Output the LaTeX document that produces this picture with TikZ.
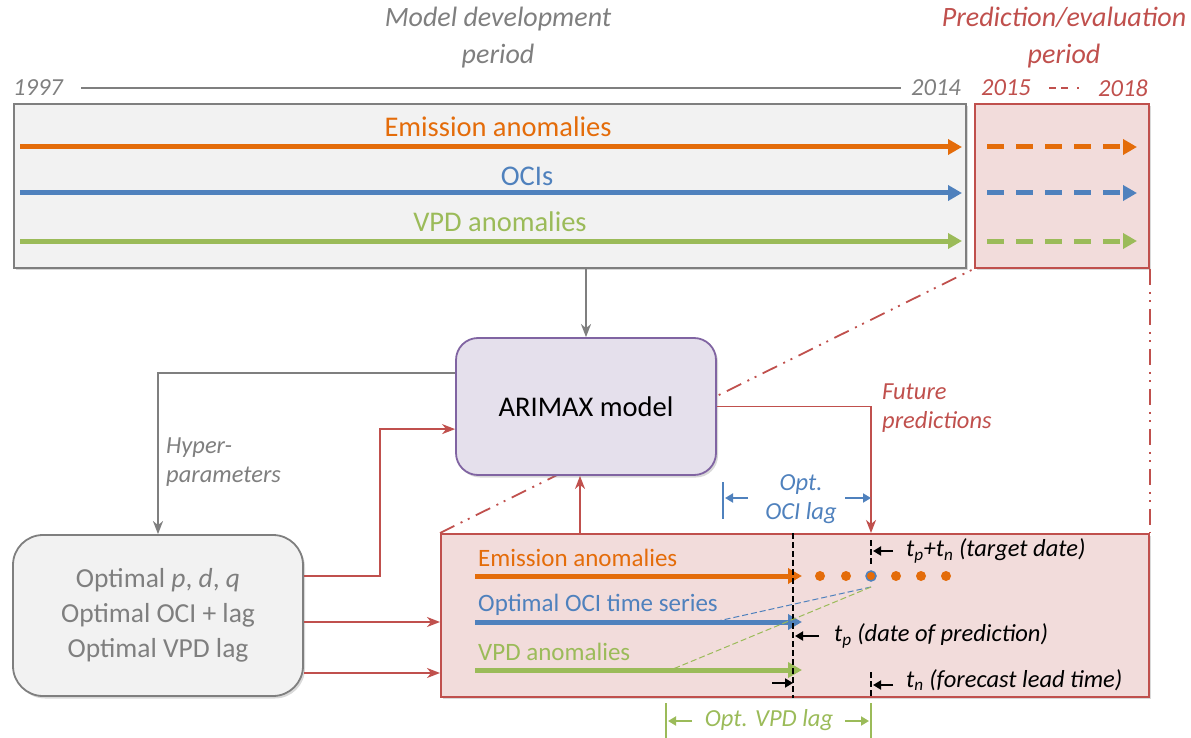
\documentclass[tikz,border=0pt]{standalone}
\usepackage{fontspec}
\setmainfont{Carlito}
\usetikzlibrary{arrows.meta,positioning,shadows}
\definecolor{emisorange}{HTML}{E46C0A}
\definecolor{ociblue}{HTML}{4F81BD}
\definecolor{vpdgreen}{HTML}{9BBB59}
\definecolor{predred}{HTML}{C0504D}
\definecolor{predfill}{HTML}{F2DCDB}
\definecolor{devgray}{HTML}{7F7F7F}
\definecolor{devfill}{HTML}{F2F2F2}
\definecolor{modelpurple}{HTML}{8064A2}
\definecolor{modelfill}{HTML}{E5E0EC}
\newcommand{\fsbig}{\fontsize{28.5}{35}\selectfont}
\newcommand{\fshyper}{\fontsize{27.5}{35}\selectfont}
\newcommand{\fstitle}{\fontsize{28}{37}\selectfont}
\newcommand{\fsmid}{\fontsize{25}{29}\selectfont}
\newcommand{\fslab}{\fontsize{24.5}{29}\selectfont}
\tikzset{
  boxshadow/.style={drop shadow={shadow xshift=2pt,shadow yshift=-2.5pt,opacity=0.3}},
  devbox/.style={draw=devgray,fill=devfill,line width=1.8pt,boxshadow,inner sep=0pt},
  predbox/.style={draw=predred,fill=predfill,line width=1.8pt,boxshadow,inner sep=0pt},
  modelbox/.style={draw=modelpurple,fill=modelfill,line width=1.8pt,rounded corners=22pt,boxshadow,inner sep=0pt},
  hyperbox/.style={draw=devgray,fill=devfill,line width=1.8pt,rounded corners=30pt,boxshadow,inner sep=0pt,align=center,text=devgray,font=\fshyper},
  seriesarrow/.style={line width=5pt,-{Triangle[length=14pt,width=15pt]}},
  futureseries/.style={seriesarrow,dash pattern=on 17pt off 12pt},
  grayarrow/.style={draw=devgray,line width=1.8pt,-{Stealth[length=13pt,width=10pt,inset=4pt]}},
  redarrow/.style={draw=predred,line width=1.8pt,-{Stealth[length=13pt,width=10pt,inset=4pt]}},
  lagarrow/.style={line width=1.8pt,-{Triangle[length=8pt,width=9pt]}},
  zoomline/.style={draw=predred,line width=1.8pt,dash pattern=on 16pt off 7pt on 2pt off 6pt on 2pt off 7pt},
  timeline/.style={black,line width=1.8pt,dash pattern=on 6pt off 3pt},
  lagline/.style={line width=1pt,dash pattern=on 6pt off 3pt},
  ptitle/.style={font=\fstitle\itshape,align=center},
  yearlabel/.style={font=\fslab\itshape},
  serieslabel/.style={font=\fsbig},
  innerlabel/.style={font=\fsmid,anchor=west,inner sep=2pt},
  tlabel/.style={font=\fslab\itshape,anchor=west,inner sep=2pt},
}
\begin{document}
\begin{tikzpicture}[x=1pt,y=-1pt]
  \useasboundingbox (0,0) rectangle (1191,738);
  \node[ptitle,text=devgray] (devtitle) at (498,38) {Model development\\period};
  \node[ptitle,text=predred] (predtitle) at (1064,38) {Prediction/evaluation\\period};
  \node[yearlabel,text=devgray] (y1997) at (38,88) {1997};
  \node[yearlabel,text=devgray] (y2014) at (936,88) {2014};
  \node[yearlabel,text=predred] (y2015) at (1006,88) {2015};
  \node[yearlabel,text=predred] (y2018) at (1123,88) {2018};
  \draw[devgray,line width=1.5pt,shorten <=15pt,shorten >=7pt] (y1997) -- (y2014);
  \draw[predred,line width=1.2pt,shorten <=15pt,shorten >=8pt,
    dash pattern=on 7pt off 5pt on 7pt off 9pt on 2pt off 9pt] (y2015) -- (y2018);

  \node[devbox,anchor=north west,minimum width=952pt,minimum height=164pt] (devper) at (13,103) {};
  \node[predbox,anchor=north west,minimum width=174pt,minimum height=164pt] (predper) at (974,103) {};
  \node[predbox,anchor=north west,minimum width=708pt,minimum height=163pt] (forecast) at (440,533) {};
  \node[hyperbox,minimum width=290pt,minimum height=161pt] (hyper) at (158,615.5)
    {Optimal \textit{p}, \textit{d}, \textit{q}\\Optimal OCI + lag\\Optimal VPD lag};
  \draw[zoomline] (forecast.north west) -- (predper.south west);
  \draw[zoomline] (predper.south east) -- (forecast.north east);
  \node[modelbox,minimum width=260pt,minimum height=137pt,font=\fsbig] (model) at (586,406.5) {ARIMAX model};

  \node[serieslabel,text=emisorange] (emislabel) at (498,127) {Emission anomalies};
  \node[serieslabel,text=ociblue] (ocilabel) at (527,176) {OCIs};
  \node[serieslabel,text=vpdgreen] (vpdlabel) at (500,222) {VPD anomalies};
  \draw[seriesarrow,emisorange] (20,147) -- (962,147);
  \draw[seriesarrow,ociblue] (20,193) -- (962,193);
  \draw[seriesarrow,vpdgreen] (20,241) -- (962,241);
  \draw[futureseries,emisorange] (987,147) -- (1137,147);
  \draw[futureseries,ociblue] (987,193) -- (1137,193);
  \draw[futureseries,vpdgreen] (987,241) -- (1137,241);

  \draw[grayarrow] (devper.south -| model.north) -- (model.north);
  \draw[grayarrow] ([yshift=-36pt]model.north west) -| (hyper.north);
  \node[tlabel,text=devgray,align=left] (hyperlabel) at (164,462) {Hyper-\\parameters};
  \draw[redarrow] ([yshift=39.5pt]hyper.east) -- ++(76,0) |- ([yshift=-92pt]model.north west);
  \draw[redarrow] ([yshift=-6.5pt]hyper.east) -- ([yshift=-6.5pt]hyper.east -| forecast.west);
  \draw[redarrow] ([yshift=-57.5pt]hyper.east) -- ([yshift=-57.5pt]hyper.east -| forecast.west);
  \draw[redarrow] ([xshift=-6pt]model.south |- forecast.north) -- ([xshift=-6pt]model.south);

  \coordinate (target) at (871,576);
  \coordinate (predict) at (793,576);
  \draw[redarrow] (model.east) -| (target |- forecast.north);
  \node[tlabel,text=predred,align=left] (futlabel) at (880,408) {Future\\predictions};

  \node[innerlabel,text=emisorange] (emisin) at (476,558) {Emission anomalies};
  \node[innerlabel,text=ociblue] (ociin) at (476,605) {Optimal OCI time series};
  \node[innerlabel,text=vpdgreen] (vpdin) at (476,652) {VPD anomalies};
  \draw[seriesarrow,emisorange] (475,576) -- (802,576);
  \draw[seriesarrow,ociblue] (475,622) -- (802,622);
  \draw[seriesarrow,vpdgreen] (475,670) -- (802,670);
  \foreach \dx in {-51,-25,25,50,75}
    \fill[emisorange] ([xshift=\dx pt]target) circle (5);
  \draw[ociblue,fill=emisorange,line width=1.5pt] (target) circle (5);

  \draw[timeline] (predict |- forecast.north) -- (predict |- forecast.south);
  \draw[timeline] ([yshift=36pt]target) -- ([yshift=10pt]target);
  \draw[timeline] ([yshift=-96pt]target) -- (target |- forecast.south);
  \coordinate (dotlow) at (871,587);
  \draw[lagline,ociblue] (dotlow) -- (718,621);
  \draw[lagline,vpdgreen] (dotlow) -- (673,669);

  \node[tlabel] (tgtlabel) at (904,551) {t\textsubscript{p}+t\textsubscript{n} (target date)};
  \draw[lagarrow,shorten <=11pt,shorten >=2pt] (tgtlabel.west) -- (tgtlabel.west -| target);
  \node[tlabel] (tplabel) at (832,636) {t\textsubscript{p} (date of prediction)};
  \draw[lagarrow,shorten <=13pt,shorten >=2pt] (tplabel.west) -- (tplabel.west -| predict);
  \node[tlabel] (tnlabel) at (904,680) {t\textsubscript{n} (forecast lead time)};
  \draw[lagarrow,shorten <=11pt,shorten >=2pt] ([yshift=-5pt]tnlabel.west) -- ([yshift=-5pt]tnlabel.west -| target);
  \draw[lagarrow] ([xshift=-21pt,yshift=-107pt]predict) -- ([yshift=-107pt]predict);

  \coordinate (ocistart) at (723,498);
  \node[tlabel,anchor=center,align=center,text=ociblue] (ocilag) at (801,499) {Opt.\\OCI lag};
  \draw[ociblue,line width=1.5pt] ([yshift=16pt]ocistart) -- ([yshift=-21pt]ocistart);
  \draw[lagarrow,ociblue] ([xshift=25pt]ocistart) -- ([xshift=2pt]ocistart);
  \draw[lagarrow,ociblue] ([xshift=122pt]ocistart) -- (ocistart -| target);

  \coordinate (vpdstart) at (666,721);
  \node[tlabel,anchor=center,text=vpdgreen] (vpdlag) at (769,720) {Opt. VPD lag};
  \draw[vpdgreen,line width=1.5pt] ([yshift=18pt]vpdstart) -- ([yshift=-17pt]vpdstart);
  \draw[vpdgreen,line width=1.5pt] (vpdstart -| target) ++(0,-18) -- ++(0,35);
  \draw[lagarrow,vpdgreen] ([xshift=26pt]vpdstart) -- ([xshift=2pt]vpdstart);
  \draw[lagarrow,vpdgreen] ([xshift=179pt]vpdstart) -- ([xshift=-2pt]vpdstart -| target);
\end{tikzpicture}
\end{document}
